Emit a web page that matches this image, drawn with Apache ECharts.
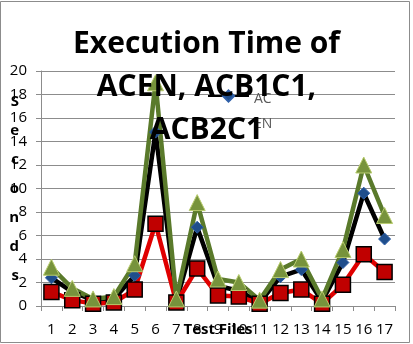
<!DOCTYPE html>
<html>
<head>
<meta charset="utf-8">
<script src="https://cdn.jsdelivr.net/npm/echarts@6/dist/echarts.min.js"></script>
<style>
html,body{margin:0;padding:0;background:#fff;}
#chart{width:413px;height:344px;}
</style>
</head>
<body>
<div id="chart"></div>
<script>
// test files 1..17
var files = ['1','2','3','4','5','6','7','8','9','10','11','12','13','14','15','16','17'];
// seconds
var acen   = [2.4, 1.2, 0.5, 0.6, 2.6, 14.8, 0.4, 6.7, 1.7, 1.3, 0.3, 2.5, 3.1, 0.4, 3.7, 9.6, 5.7];
var acb1c1 = [1.2, 0.5, 0.2, 0.3, 1.4, 7.0, 0.3, 3.2, 0.9, 0.8, 0.2, 1.1, 1.4, 0.2, 1.8, 4.4, 2.9];
var acb2c1 = [3.3, 1.5, 0.6, 0.8, 3.6, 19.0, 0.6, 8.8, 2.3, 2.0, 0.5, 3.1, 4.0, 0.6, 4.8, 12.0, 7.7];
var yTicks = [0, 2, 4, 6, 8, 10, 12, 14, 16, 18, 20];

var chart = echarts.init(document.getElementById('chart'));
var font = 'Open Sans';

var option = {
    animation: false,
    backgroundColor: '#fff',
    title: {
        text: 'Execution Time of\nACEN, ACB1C1,\nACB2C1',
        left: 'center',
        top: 18,
        z: 10,
        textStyle: {fontFamily: font, fontSize: 30, fontWeight: 'bold', color: '#000', lineHeight: 43}
    },
    legend: {
        data: ['ACEN'],
        left: 202,
        top: 59,
        itemWidth: 41,
        itemHeight: 14,
        itemGap: 4,
        // legend text wraps as "AC / EN", first line level with the icon
        formatter: function(){ return '{c| }\n{a|AC}\n{b|EN}'; },
        textStyle: {
            fontFamily: font, fontSize: 14, color: '#595959',
            rich: {
                c: {fontFamily: font, fontSize: 14, lineHeight: 40},
                a: {fontFamily: font, fontSize: 14, color: '#595959', lineHeight: 16},
                b: {fontFamily: font, fontSize: 14, color: '#595959', lineHeight: 34}
            }
        }
    },
    grid: {left: 41, right: 18, top: 71, bottom: 38, outerBoundsMode: 'none'},
    xAxis: {
        type: 'category',
        data: files,
        name: 'Test Files',
        nameLocation: 'middle',
        nameGap: 16,
        nameMoveOverlap: false,
        nameTextStyle: {fontFamily: font, fontSize: 15, fontWeight: 'bold', color: '#000'},
        axisLine: {lineStyle: {color: '#8c8c8c', width: 1}},
        axisTick: {show: true, length: 5, lineStyle: {color: '#8c8c8c'}},
        axisLabel: {fontFamily: font, fontSize: 15, color: '#000', margin: 16, interval: 0}
    },
    yAxis: {
        type: 'value',
        min: yTicks[0],
        max: yTicks[yTicks.length - 1],
        interval: 2,
        name: 'S\ne\nc\no\nn\nd\ns',
        nameLocation: 'middle',
        nameGap: 22,
        nameRotate: 0,
        nameMoveOverlap: false,
        nameTextStyle: {fontFamily: font, fontSize: 15, fontWeight: 'bold', color: '#000', lineHeight: 29},
        axisLine: {show: true, lineStyle: {color: '#8c8c8c', width: 1}},
        axisTick: {show: true, length: 5, lineStyle: {color: '#8c8c8c'}},
        axisLabel: {fontFamily: font, fontSize: 15, color: '#000', margin: 14},
        splitLine: {lineStyle: {color: '#8c8c8c', width: 1}}
    },
    series: [
        {
            name: 'ACEN',
            type: 'line',
            data: acen,
            symbol: 'diamond',
            symbolSize: 12,
            lineStyle: {color: '#000', width: 4.5},
            itemStyle: {color: '#1f4e8c', borderColor: '#2e5fa8', borderWidth: 1}
        },
        {
            name: 'ACB1C1',
            type: 'line',
            data: acb1c1,
            symbol: 'rect',
            symbolSize: 15,
            lineStyle: {color: '#e00000', width: 4.5},
            itemStyle: {color: '#c00000', borderColor: '#000', borderWidth: 1.5}
        },
        {
            name: 'ACB2C1',
            type: 'line',
            data: acb2c1,
            symbol: 'triangle',
            symbolSize: 16,
            lineStyle: {color: '#5a7a2b', width: 4.5},
            itemStyle: {color: '#77933c', borderColor: '#b8cc6e', borderWidth: 1}
        }
    ],
    graphic: [{
        type: 'rect',
        shape: {x: 0.5, y: 1.5, width: 409, height: 341},
        style: {fill: null, stroke: '#8c8c8c', lineWidth: 1},
        silent: true
    }]
};
chart.setOption(option);
</script>
</body>
</html>
